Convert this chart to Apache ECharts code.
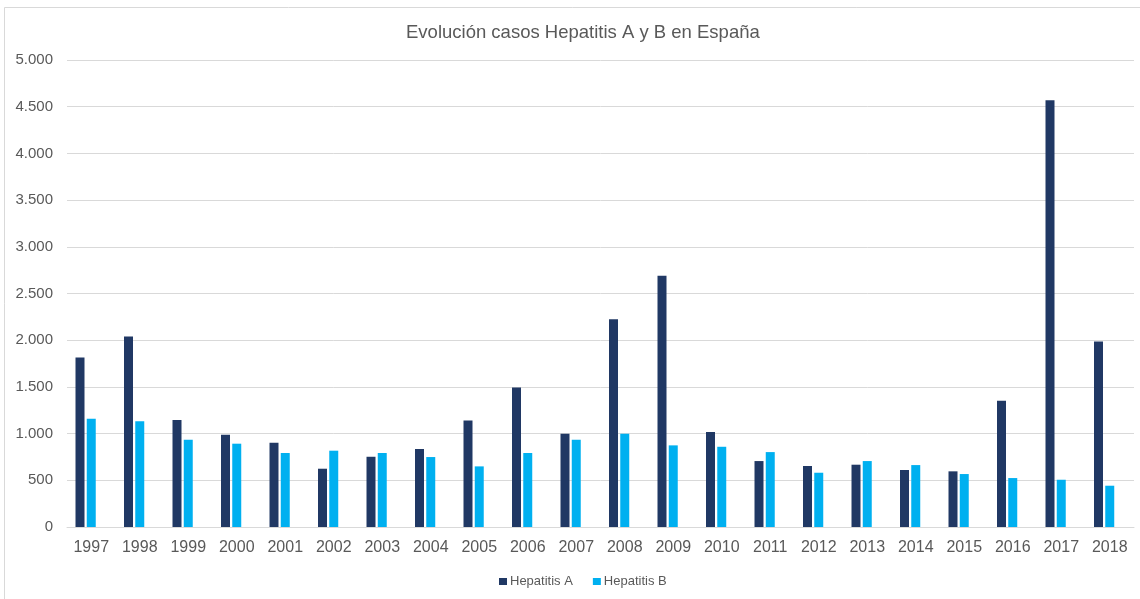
<!DOCTYPE html>
<html>
<head>
<meta charset="utf-8">
<script src="https://cdn.jsdelivr.net/npm/echarts@6/dist/echarts.min.js"></script>
<style>
  html, body { margin: 0; padding: 0; background: #ffffff; }
  #chart { width: 1140px; height: 599px; }
</style>
</head>
<body>
<div id="chart"></div>
<script>
// Casos declarados por año
const years = ['1997', '1998', '1999', '2000', '2001', '2002', '2003', '2004', '2005', '2006', '2007',
               '2008', '2009', '2010', '2011', '2012', '2013', '2014', '2015', '2016', '2017', '2018'];
const hepatitisA = [1815, 2040, 1145, 988, 902, 624, 752, 835, 1141, 1494, 999,
                    2225, 2689, 1016, 706, 653, 667, 610, 596, 1352, 4568, 1986];
const hepatitisB = [1159, 1131, 934, 892, 792, 817, 792, 749, 649, 792, 934,
                    999, 874, 859, 802, 581, 706, 663, 567, 524, 506, 442];
const yTicks = { min: 0, max: 5000, interval: 500 };

const chart = echarts.init(document.getElementById('chart'), null, { renderer: 'canvas' });

const fmt = v => String(v).replace(/\B(?=(\d{3})+(?!\d))/g, '.');
const grey = '#595959';

chart.setOption({
  animation: false,
  backgroundColor: '#ffffff',
  textStyle: { fontFamily: 'Liberation Sans, Arial, sans-serif' },
  graphic: [{
    type: 'rect',
    shape: { x: 4.5, y: 7.5, width: 1140, height: 600 },
    style: { fill: 'none', stroke: '#d9d9d9', lineWidth: 1 },
    silent: true
  }],
  title: {
    text: 'Evolución casos Hepatitis A y B en España',
    left: 401,
    top: 18,
    textStyle: { color: grey, fontSize: 18.5, fontWeight: 'normal', fontFamily: 'Liberation Sans, Arial, sans-serif' }
  },
  legend: {
    data: ['Hepatitis A', 'Hepatitis B'],
    left: 494,
    top: 570,
    itemWidth: 8,
    itemHeight: 7,
    itemGap: 20,
    icon: 'rect',
    textStyle: { color: grey, fontSize: 13, padding: [0, 0, 0, -2], fontFamily: 'Liberation Sans, Arial, sans-serif' }
  },
  grid: { left: 67, right: 6, top: 60, bottom: 72, containLabel: false },
  xAxis: {
    type: 'category',
    data: years,
    axisLine: { show: true, lineStyle: { color: '#d9d9d9', width: 1 } },
    axisTick: { show: false },
    axisLabel: { color: grey, fontSize: 16, margin: 13, interval: 0 }
  },
  yAxis: {
    type: 'value',
    min: yTicks.min,
    max: yTicks.max,
    interval: yTicks.interval,
    axisLine: { show: false },
    axisTick: { show: false },
    splitLine: { lineStyle: { color: '#d9d9d9', width: 1 } },
    axisLabel: { color: grey, fontSize: 15, margin: 14, formatter: fmt }
  },
  series: [
    {
      name: 'Hepatitis A',
      type: 'bar',
      data: hepatitisA,
      barWidth: 9,
      barGap: '25%',
      itemStyle: { color: '#203864' }
    },
    {
      name: 'Hepatitis B',
      type: 'bar',
      data: hepatitisB,
      barWidth: 9,
      barGap: '25%',
      itemStyle: { color: '#00b0f0' }
    },
    {
      // tercera serie vacía que reserva su hueco en cada grupo
      name: 'reserva',
      type: 'bar',
      data: [],
      barWidth: 9,
      barGap: '25%',
      silent: true
    }
  ]
});
</script>
</body>
</html>
